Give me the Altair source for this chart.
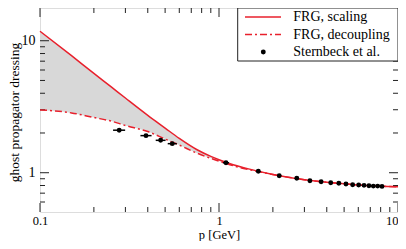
import altair as alt
import pandas as pd

# ---------------- data ----------------
p_curve = [0.1, 0.15, 0.2, 0.25, 0.3, 0.4, 0.5, 0.6, 0.75, 0.9, 1.0, 1.2, 1.5,
           2.0, 3.0, 4.0, 5.0, 6.0, 8.0, 10.0]
frg_scaling = [11.8, 7.7, 5.66, 4.47, 3.68, 2.72, 2.18, 1.82, 1.50, 1.33, 1.255,
               1.15, 1.06, 0.97, 0.885, 0.846, 0.825, 0.807, 0.79, 0.783]
frg_decoupling = [2.99, 2.84, 2.62, 2.46, 2.28, 2.05, 1.80, 1.62, 1.41, 1.285,
                  1.225, 1.13, 1.05, 0.97, 0.885, 0.846, 0.825, 0.807, 0.79, 0.783]

p_lat = [0.277, 0.391, 0.472, 0.548, 1.094, 1.658, 2.17, 2.72, 3.22, 3.72, 4.21,
         4.67, 5.12, 5.58, 6.03, 6.46, 6.88, 7.28, 7.70, 8.14]
G_lat = [2.10, 1.91, 1.76, 1.66, 1.19, 1.025, 0.949, 0.908, 0.870, 0.855, 0.840,
         0.832, 0.822, 0.811, 0.807, 0.802, 0.796, 0.792, 0.792, 0.788]
p_lat_lo = [0.256, 0.364, 0.443, 0.517, 1.052, 1.62, 2.12, 2.66, 3.15, 3.64, 4.12,
            4.57, 5.01, 5.46, 5.90, 6.32, 6.73, 7.12, 7.53, 7.96]
p_lat_hi = [0.299, 0.420, 0.503, 0.581, 1.138, 1.70, 2.22, 2.78, 3.29, 3.80, 4.30,
            4.77, 5.23, 5.70, 6.16, 6.60, 7.03, 7.44, 7.87, 8.32]

x_major = [0.1, 1, 10]
x_minor = [0.2, 0.3, 0.4, 0.5, 0.6, 0.7, 0.8, 0.9, 2, 3, 4, 5, 6, 7, 8, 9]
y_major = [1, 10]
y_minor = [0.6, 0.7, 0.8, 0.9, 2, 3, 4, 5, 6, 7, 8, 9]

legend_labels = ["FRG, scaling", "FRG, decoupling", "Sternbeck et al."]

# ---------------- styling ----------------
FONT = "Liberation Serif"
RED = "#e8202c"
FRAME = "#222222"
W, H = 358, 204
MAJ, MIN = 9, 5

curves = pd.DataFrame({"p": p_curve, "scal": frg_scaling, "dec": frg_decoupling})
lat = pd.DataFrame({"p": p_lat, "G": G_lat, "lo": p_lat_lo, "hi": p_lat_hi})

xscale = alt.Scale(type="log", domain=[0.1, 10], nice=False)
yscale = alt.Scale(type="log", domain=[0.504, 17.7], nice=False)

xaxis = alt.Axis(values=x_major, format="~g", ticks=False, tickSize=0, domain=False,
                 grid=False, labelFont=FONT, labelFontSize=12.5, labelPadding=2,
                 labelColor="black", labelFlush=False,
                 labelAlign={"condition": {"test": "datum.value >= 10", "value": "right"},
                             "value": "center"},
                 titleFont=FONT, titleFontSize=12.5, titleFontWeight="normal",
                 titleColor="black", titleY=26, titleBaseline="alphabetic")
yaxis = alt.Axis(values=y_major, format="~g", ticks=False, tickSize=0, domain=False,
                 grid=False, labelFont=FONT, labelFontSize=14, labelPadding=5,
                 labelColor="black",
                 titleFont=FONT, titleFontSize=13.5, titleFontWeight="normal",
                 titleColor="black", titleX=-25.5, titleY=H / 2 + 2, titleAngle=270,
                 titleAlign="center", titleBaseline="middle")

XT = "p [GeV]"
YT = "ghost propagator dressing"


def X(f):
    return alt.X(f, type="quantitative", scale=xscale, axis=xaxis, title=XT)


def Y(f):
    return alt.Y(f, type="quantitative", scale=yscale, axis=yaxis, title=YT)


band = alt.Chart(curves).mark_area(color="#d8d8d8", interpolate="monotone").encode(
    x=X("p"), y=Y("scal"), y2="dec")

layers = [band]

# inward ticks on all four sides
for vals, ln in ((x_major, MAJ), (x_minor, MIN)):
    d = pd.DataFrame({"v": vals})
    b = alt.Chart(d).mark_rule(color=FRAME, strokeWidth=1)
    layers.append(b.encode(x=X("v"), y=alt.value(H), y2=alt.value(H - ln)))
    layers.append(b.encode(x=X("v"), y=alt.value(0), y2=alt.value(ln)))
for vals, ln in ((y_major, MAJ), (y_minor, MIN)):
    d = pd.DataFrame({"v": vals})
    b = alt.Chart(d).mark_rule(color=FRAME, strokeWidth=1)
    layers.append(b.encode(y=Y("v"), x=alt.value(0), x2=alt.value(ln)))
    layers.append(b.encode(y=Y("v"), x=alt.value(W), x2=alt.value(W - ln)))

dec_line = alt.Chart(curves).mark_line(color=RED, strokeWidth=1.5, strokeDash=[7, 3, 2, 3],
                                       interpolate="monotone").encode(x=X("p"), y=Y("dec"))
scal_line = alt.Chart(curves).mark_line(color=RED, strokeWidth=1.5,
                                        interpolate="monotone").encode(x=X("p"), y=Y("scal"))
err = alt.Chart(lat).mark_rule(color="black", strokeWidth=1.5).encode(
    x=X("lo"), x2="hi", y=Y("G"))
pts = alt.Chart(lat).mark_circle(color="black", size=24, opacity=1).encode(
    x=X("p"), y=Y("G"))

layers += [dec_line, scal_line, err, pts]

# legend
one = pd.DataFrame({"k": [0]})
LX0, LY = 197.7, [9, 26.5, 44]
box = alt.Chart(one).mark_rect(fill="white", stroke=FRAME, strokeWidth=1).encode(
    x=alt.value(LX0), x2=alt.value(W), y=alt.value(0), y2=alt.value(53))
s1 = alt.Chart(one).mark_rule(color=RED, strokeWidth=1.5).encode(
    x=alt.value(205), x2=alt.value(241), y=alt.value(LY[0]))
s2 = alt.Chart(one).mark_rule(color=RED, strokeWidth=1.5, strokeDash=[7, 3, 2, 3]).encode(
    x=alt.value(205), x2=alt.value(241), y=alt.value(LY[1]))
s3 = alt.Chart(one).mark_circle(color="black", size=24, opacity=1).encode(
    x=alt.value(223.3), y=alt.value(LY[2]))
layers += [box, s1, s2, s3]
for lab, yy in zip(legend_labels, LY):
    t = alt.Chart(pd.DataFrame({"t": [lab]})).mark_text(
        font=FONT, fontSize=14, align="left", baseline="middle", color="black").encode(
        text="t:N", x=alt.value(253.3), y=alt.value(yy))
    layers.append(t)

chart = alt.layer(*layers).properties(
    width=W, height=H,
    autosize=alt.AutoSizeParams(type="none"),
    padding={"left": 32, "top": 0, "right": 0, "bottom": 29},
).configure_view(stroke=FRAME, strokeWidth=1.2).configure(background="white")

chart.save("out.html", embed_options={"renderer": "svg", "actions": False})
